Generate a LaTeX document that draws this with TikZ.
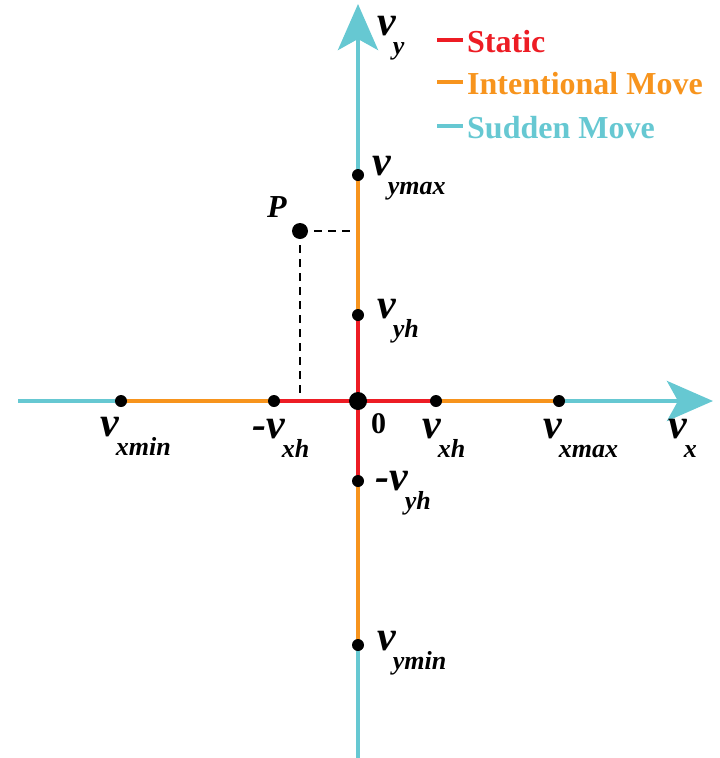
\documentclass[tikz,border=0pt]{standalone}
\usepackage{fontspec}
\setmainfont{Liberation Serif}
\usetikzlibrary{arrows.meta}
\definecolor{statred}{HTML}{ED1C24}
\definecolor{intorange}{HTML}{F7941D}
\definecolor{sudcyan}{HTML}{66C8D2}
% velocity label: big v with a low subscript
\newcommand{\vlab}[2][]{{\fontsize{42}{42}\selectfont\bfseries\itshape #1v}\kern-3pt\raisebox{-19pt}{\fontsize{26}{26}\selectfont\bfseries\itshape #2}}
\begin{document}
\begin{tikzpicture}[x=1pt,y=-1pt,
  axis/.style={line width=4.5pt},
  dot/.style={circle,fill=black,inner sep=0pt,minimum size=12pt},
  lab/.style={anchor=base west,inner sep=0pt},
  leg/.style={anchor=base west,inner sep=0pt,font=\fontsize{32}{32}\selectfont\bfseries}]
  \useasboundingbox (0,0) rectangle (720,758);
  \coordinate (O) at (358,401);
  \coordinate (L) at (18,401);
  \coordinate (R) at (713,401);
  \coordinate (B) at (358,758);
  \coordinate (T) at (358,4);
  \coordinate (Xmin) at (121,401);
  \coordinate (NXh) at (274,401);
  \coordinate (Xh) at (436,401);
  \coordinate (Xmax) at (559,401);
  \coordinate (Ymax) at (358,175);
  \coordinate (Yh) at (358,315);
  \coordinate (NYh) at (358,481);
  \coordinate (Ymin) at (358,645);
  \coordinate (P) at (300,231);
  \draw[line width=1.4pt,dash pattern=on 8pt off 6pt] (P) -- (P -| O) (P) -- (P |- O);
  \draw[axis,sudcyan] (L) -- (Xmin) (B) -- (Ymin);
  \draw[axis,intorange] (Xmin) -- (NXh) (Xh) -- (Xmax) (Ymin) -- (NYh) (Yh) -- (Ymax);
  \draw[axis,statred] (NXh) -- (Xh) (NYh) -- (Yh);
  \draw[axis,sudcyan,-{Stealth[length=46pt,width=40pt,inset=11pt]}] (Xmax) -- (R);
  \draw[axis,sudcyan,-{Stealth[length=46pt,width=40pt,inset=11pt]}] (Ymax) -- (T);
  \foreach \p/\n in {Xmin/xmin,NXh/nxh,Xh/xh,Xmax/xmax,Ymax/ymax,Yh/yh,NYh/nyh,Ymin/ymin}
    \node[dot] (\n) at (\p) {};
  \node[dot,minimum size=18pt] (o) at (O) {};
  \node[dot,minimum size=16pt] (p) at (P) {};
  \node[lab] (lvy) at (377,35) {\vlab{y}};
  \node[lab] (lvx) at (668,438) {\vlab{x}};
  \node[lab] (lymax) at (372,175) {\vlab{ymax}};
  \node[lab] (lyh) at (377,318) {\vlab{yh}};
  \node[lab] (lnyh) at (375,490) {\vlab[-]{yh}};
  \node[lab] (lymin) at (377,650) {\vlab{ymin}};
  \node[lab] (lxmin) at (100,436) {\vlab{xmin}};
  \node[lab] (lnxh) at (252,438) {\vlab[-]{xh}};
  \node[lab] (lxh) at (422,438) {\vlab{xh}};
  \node[lab] (lxmax) at (543,438) {\vlab{xmax}};
  \node[lab,font=\fontsize{30}{30}\selectfont\bfseries] (lo) at (371,433) {0};
  \node[lab,font=\fontsize{32}{32}\selectfont\bfseries\itshape] (lp) at (267,217) {P};
  % legend
  \draw[line width=4pt,statred] (437,40) -- (463,40);
  \draw[line width=4pt,intorange] (437,82) -- (463,82);
  \draw[line width=4pt,sudcyan] (437,126) -- (463,126);
  \node[leg,statred] (lstat) at (467,52) {Static};
  \node[leg,intorange] (lint) at (467,94) {Intentional Move};
  \node[leg,sudcyan] (lsud) at (467,138) {Sudden Move};
\end{tikzpicture}
\end{document}
